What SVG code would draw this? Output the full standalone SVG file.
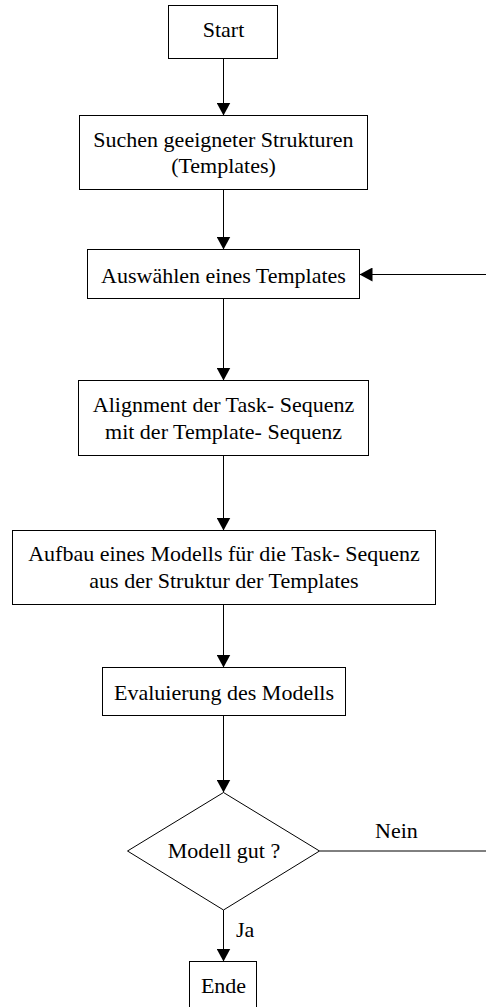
<svg xmlns="http://www.w3.org/2000/svg" width="486" height="1007" viewBox="0 0 486 1007">
<style>
.box{fill:#fff;stroke:#000;stroke-width:1}
.t{font-family:"Liberation Serif","Times New Roman",serif;font-size:22px;fill:#000;text-anchor:middle}
.l{font-family:"Liberation Serif","Times New Roman",serif;font-size:22px;fill:#000}
.c{stroke:#000;stroke-width:1;fill:none}
</style>
<defs>
<marker id="ah" viewBox="0 0 13 14" refX="13" refY="7" markerWidth="13" markerHeight="14" markerUnits="userSpaceOnUse" orient="auto">
<path d="M0,0 L13,7 L0,14 Z" fill="#000"/>
</marker>
</defs>
<rect width="486" height="1007" fill="#fff"/>
<g id="connectors">
<line class="c" x1="223.5" y1="58.5" x2="223.5" y2="115.5" marker-end="url(#ah)"/>
<line class="c" x1="223.5" y1="189.5" x2="223.5" y2="249.5" marker-end="url(#ah)"/>
<line class="c" x1="223.5" y1="298.5" x2="223.5" y2="380.5" marker-end="url(#ah)"/>
<line class="c" x1="223.5" y1="455.5" x2="223.5" y2="530.5" marker-end="url(#ah)"/>
<line class="c" x1="223.5" y1="604.5" x2="223.5" y2="667.5" marker-end="url(#ah)"/>
<line class="c" x1="223.5" y1="715.5" x2="223.5" y2="792.5" marker-end="url(#ah)"/>
<line class="c" x1="223.5" y1="910" x2="223.5" y2="961.5" marker-end="url(#ah)"/>
<line class="c" x1="319.5" y1="851" x2="486" y2="851"/>
<line class="c" x1="486" y1="274.5" x2="359.5" y2="274.5" marker-end="url(#ah)"/>
<text class="l" x="375" y="838">Nein</text>
<text class="l" x="236" y="937">Ja</text>
</g>
<g id="start">
<rect class="box" x="168.5" y="5.5" width="109" height="53"/>
<text class="t" x="223.5" y="37">Start</text>
</g>
<g id="suchen">
<rect class="box" x="79.5" y="115.5" width="288" height="74"/>
<text class="t" x="223.5" y="147">Suchen geeigneter Strukturen</text>
<text class="t" x="223.5" y="173">(Templates)</text>
</g>
<g id="auswaehlen">
<rect class="box" x="87.5" y="249.5" width="272" height="49"/>
<text class="t" x="223.5" y="283">Auswählen eines Templates</text>
</g>
<g id="alignment">
<rect class="box" x="78.5" y="380.5" width="290" height="75"/>
<text class="t" x="223.5" y="412">Alignment der Task- Sequenz</text>
<text class="t" x="223.5" y="439">mit der Template- Sequenz</text>
</g>
<g id="aufbau">
<rect class="box" x="12.5" y="530.5" width="423" height="74"/>
<text class="t" x="224" y="560.5">Aufbau eines Modells für die Task- Sequenz</text>
<text class="t" x="224" y="588">aus der Struktur der Templates</text>
</g>
<g id="evaluierung">
<rect class="box" x="102.5" y="667.5" width="243" height="48"/>
<text class="t" x="224" y="700">Evaluierung des Modells</text>
</g>
<g id="entscheidung">
<polygon class="box" points="223.5,792.5 319.5,851 223.5,910 127.5,851"/>
<text class="t" x="224" y="858">Modell gut ?</text>
</g>
<g id="ende">
<rect class="box" x="189.5" y="961.5" width="67" height="52"/>
<text class="t" x="223.5" y="993">Ende</text>
</g>
</svg>
